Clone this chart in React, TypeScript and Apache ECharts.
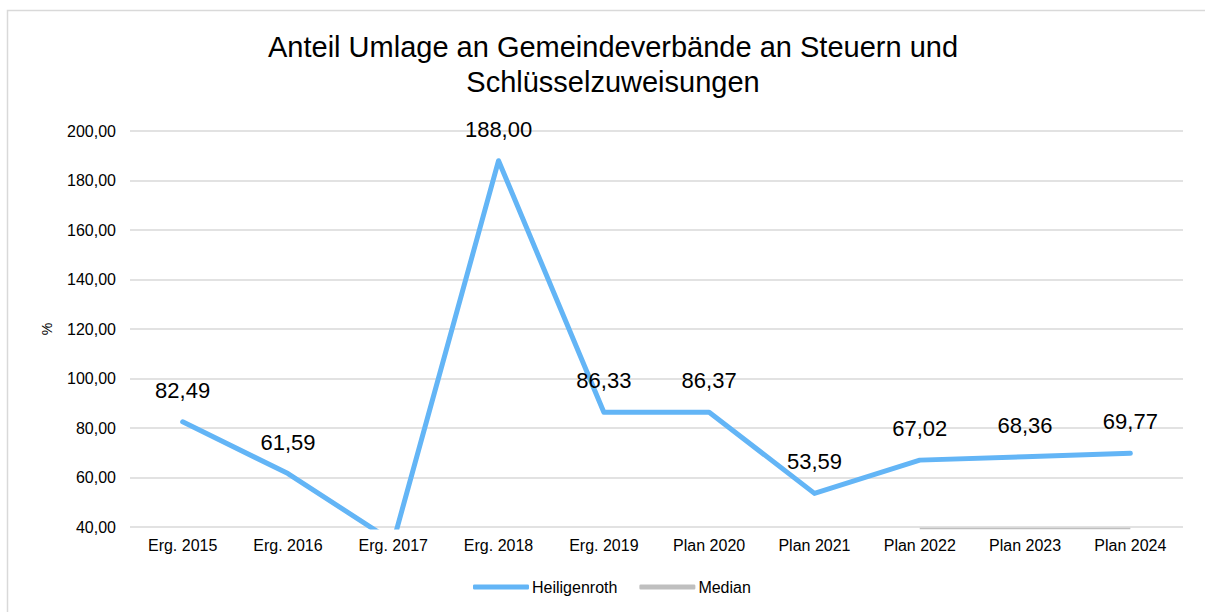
import React, { useEffect, useRef } from "react";
import * as echarts from "echarts";

const categories = ["Erg. 2015", "Erg. 2016", "Erg. 2017", "Erg. 2018", "Erg. 2019", "Plan 2020", "Plan 2021", "Plan 2022", "Plan 2023", "Plan 2024"];
const heiligenroth = [82.49, 61.59, 34.0, 188.0, 86.33, 86.37, 53.59, 67.02, 68.36, 69.77];
const median = [null, null, null, null, null, null, null, 39.4, 39.4, 39.4];
const yTicks = { min: 40, max: 200, interval: 20 };

const fmt = (v: number) => v.toFixed(2).replace(".", ",");

export default function App() {
  const ref = useRef<HTMLDivElement>(null);
  useEffect(() => {
    const chart = echarts.init(ref.current!, null, { renderer: "svg" });
    const font = "Liberation Sans, Arial, sans-serif";
    const blue = "#63b5f6";
    chart.setOption({
      animation: false,
      backgroundColor: "#ffffff",
      title: {
        text: "Anteil Umlage an Gemeindeverbände an Steuern und\nSchlüsselzuweisungen",
        left: 608,
        textAlign: "center",
        top: 24,
        textStyle: { fontFamily: font, fontSize: 29, fontWeight: "normal", color: "#000000", lineHeight: 35 },
      },
      graphic: [
        {
          type: "rect",
          shape: { x: 7.5, y: 10.5, width: 1300, height: 700 },
          style: { fill: "none", stroke: "#d9d9d9", lineWidth: 1.5 },
          silent: true,
        },
      ],
      legend: {
        bottom: 12,
        left: 468,
        itemWidth: 56,
        itemHeight: 5,
        itemGap: 22,
        icon: "roundRect",
        textStyle: { fontFamily: font, fontSize: 16, color: "#000000", padding: [0, 0, 0, -2] },
        data: [
          { name: "Heiligenroth", itemStyle: { color: blue, opacity: 1 } },
          { name: "Median", itemStyle: { color: "#bfbfbf", opacity: 1 } },
        ],
      },
      grid: { left: 130, right: 22, top: 131, bottom: 85 },
      xAxis: {
        type: "category",
        data: categories,
        boundaryGap: true,
        axisLine: { show: false },
        axisTick: { show: false },
        axisLabel: { fontFamily: font, fontSize: 16, color: "#000000", margin: 10 },
      },
      yAxis: {
        type: "value",
        min: yTicks.min,
        max: yTicks.max,
        interval: yTicks.interval,
        name: "%",
        nameLocation: "middle",
        nameGap: 76,
        nameRotate: 90,
        nameTextStyle: { fontFamily: font, fontSize: 14, color: "#000000" },
        axisLine: { show: false },
        axisTick: { show: false },
        splitLine: { lineStyle: { color: "#d9d9d9", width: 1.5 } },
        axisLabel: { fontFamily: font, fontSize: 16, color: "#000000", margin: 14, formatter: (v: number) => fmt(v) },
      },
      series: [
        {
          name: "Heiligenroth",
          type: "line",
          data: heiligenroth.map((v, i) => (i === 2 ? { value: v, label: { show: false } } : v)),
          symbol: "circle",
          symbolSize: 1,
          showSymbol: true,
          itemStyle: { color: blue, opacity: 0 },
          clip: true,
          color: blue,
          lineStyle: { width: 5, color: blue, cap: "round", join: "round" },
          label: {
            show: true,
            position: "top",
            distance: 20,
            fontFamily: font,
            fontSize: 22,
            color: "#000000",
            opacity: 1,
            formatter: (p: any) => fmt(p.value),
          },
          z: 3,
        },
        {
          name: "Median",
          type: "line",
          data: median,
          symbol: "none",
          clip: false,
          color: "#bfbfbf",
          lineStyle: { width: 1.5, color: "#bfbfbf" },
          z: 2,
        },
      ],
    });
    return () => chart.dispose();
  }, []);
  return <div ref={ref} style={{ position: "fixed", left: 0, top: 0, width: 1205, height: 612 }} />;
}
